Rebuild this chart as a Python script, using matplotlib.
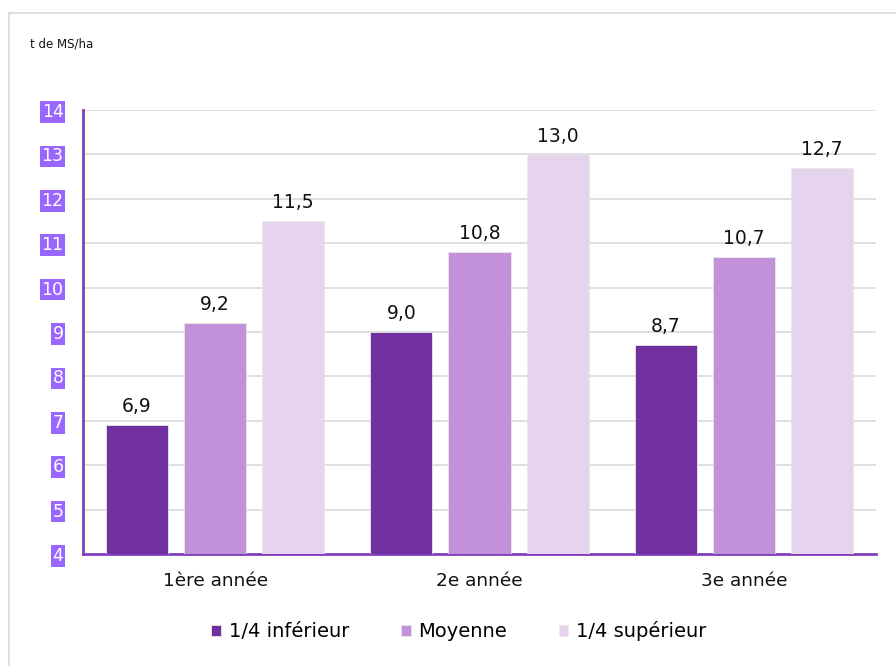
import matplotlib
matplotlib.use("Agg")
import matplotlib.pyplot as plt
import numpy as np
from matplotlib.patches import Rectangle

categories = ["1ère année", "2e année", "3e année"]
series_names = ["1/4 inférieur", "Moyenne", "1/4 supérieur"]
inferieur = [6.9, 9.0, 8.7]
moyenne = [9.2, 10.8, 10.7]
superieur = [11.5, 13.0, 12.7]
y_ticks = [4, 5, 6, 7, 8, 9, 10, 11, 12, 13, 14]
unit_label = "t de MS/ha"

colors = ["#7030a0", "#c391d9", "#e6d4ef"]
series = [inferieur, moyenne, superieur]

plt.rcParams["font.family"] = ["DejaVu Sans"]

fig = plt.figure(figsize=(8.96, 6.66), dpi=100)
fig.patch.set_facecolor("white")

# outer chart frame (light grey)
fig.add_artist(Rectangle((9 / 896, -0.1), 1.2, 1 - 13 / 666 + 0.1,
                         transform=fig.transFigure, fill=False,
                         edgecolor="#d9d9d9", linewidth=1.2))

ax = fig.add_axes([83 / 896, 1 - 554 / 666, (876 - 83) / 896, (554 - 110) / 666])

x = np.arange(len(categories))
width = 62 / 264
step = 78 / 264
for i, (vals, name, col) in enumerate(zip(series, series_names, colors)):
    pos = x + (i - 1) * step
    ax.bar(pos, np.array(vals) - 4, bottom=4, width=width, color=col,
           edgecolor="#e8e8e8", linewidth=0.6, label=name, zorder=3)
    for p, v in zip(pos, vals):
        ax.text(p, v + 0.2, f"{v:.1f}".replace(".", ","), ha="center",
                va="bottom", fontsize=13.5, color="#111111", zorder=4)

ax.set_xlim(-0.5, 2.5)
ax.set_ylim(4, 14)
ax.set_yticks(y_ticks)
ax.set_yticklabels([str(t) for t in y_ticks])
ax.set_xticks(x)
ax.set_xticklabels(categories, fontsize=13.3, color="#111111")
ax.tick_params(axis="x", length=0, pad=13)
ax.tick_params(axis="y", length=0, pad=14, labelsize=12.5, labelcolor="white")
for lbl in ax.get_yticklabels():
    lbl.set_bbox(dict(facecolor="#9966ff", edgecolor="none", pad=1.2))

ax.grid(axis="y", color="#d9d9d9", linewidth=1.2, zorder=0)
ax.set_axisbelow(True)
for s in ["top", "right"]:
    ax.spines[s].set_visible(False)
ax.spines["left"].set_color("#7f3fbf")
ax.spines["left"].set_linewidth(2)
ax.spines["bottom"].set_color("#7f3fbf")
ax.spines["bottom"].set_linewidth(2)

fig.text(30 / 896, 1 - 44 / 666, unit_label, fontsize=8.5, color="#111111",
         va="center", ha="left")

fig.legend(loc="center", bbox_to_anchor=(459 / 896, 1 - 631 / 666), ncol=3,
           frameon=False, fontsize=14, handlelength=0.5, handleheight=0.5,
           handletextpad=0.4, columnspacing=2.65)

fig.savefig("out.png", dpi=100)
